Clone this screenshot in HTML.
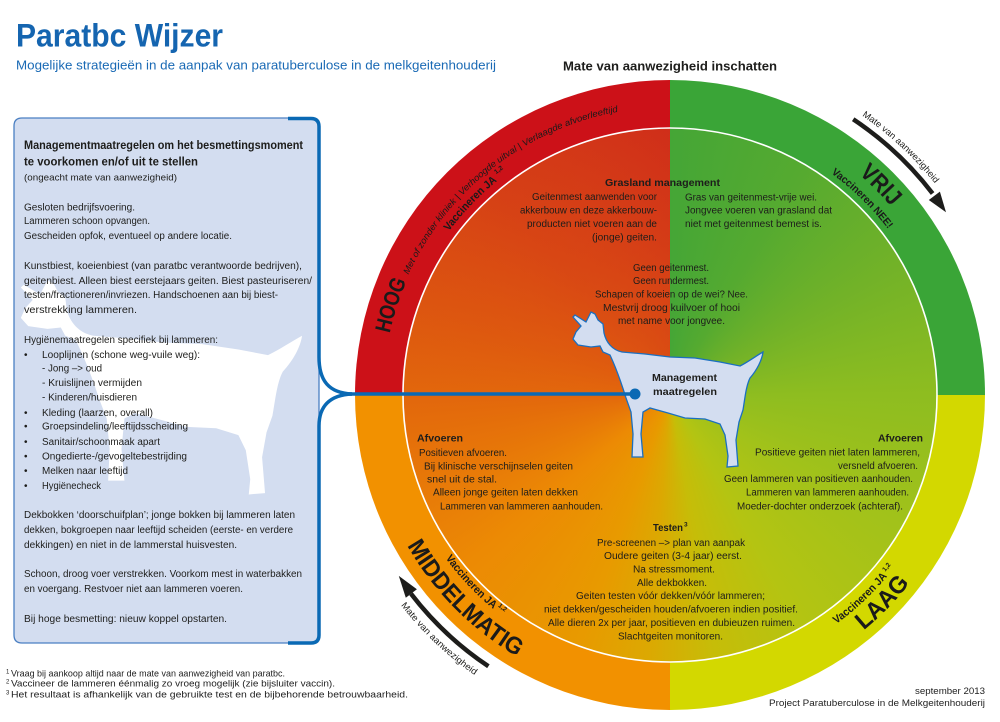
<!DOCTYPE html>
<html><head><meta charset="utf-8"><style>
html,body{margin:0;padding:0;background:#fff}
body{width:1000px;height:722px;position:relative;overflow:hidden;font-family:"Liberation Sans",sans-serif}
.ring{position:absolute;left:355px;top:80px;width:630px;height:630px;border-radius:50%;background:conic-gradient(#3aa537 0deg 90deg,#d3d800 90deg 180deg,#f29100 180deg 270deg,#cc1118 270deg 360deg)}
.inner{position:absolute;left:403px;top:128px;width:534px;height:534px;border-radius:50%;background:conic-gradient(#45a636 0deg,#55aa30 30deg,#72b228 60deg,#8ebd20 90deg,#a2c21a 120deg,#b4c412 150deg,#c6bd08 170deg,#dca802 185deg,#e89a00 200deg,#ec8a04 230deg,#e5700a 260deg,#dc5410 290deg,#d53e16 320deg,#cf2c1a 360deg)}
.innerL{position:absolute;left:403px;top:128px;width:267px;height:267px;border-radius:267px 0 0 0;background:radial-gradient(circle at 100% 100%,rgba(228,105,12,0.6) 0,rgba(228,105,12,0.25) 40%,rgba(228,105,12,0) 75%)}
svg{position:absolute;left:0;top:0}
.t{font-size:10px;fill:#1d1d1b}
.b{font-weight:bold}
</style></head><body>
<div class="ring"></div><div class="inner"></div><div class="innerL"></div>
<svg width="1000" height="722" viewBox="0 0 1000 722" font-family="Liberation Sans, sans-serif">
<defs>
<path id="aHOOG" d="M389.7,333.4 A287,287 0 0 1 434.9,230.4"/>
<path id="aMet" d="M408.4,274.7 A288,288 0 0 1 629.9,109.8"/>
<path id="aVacTL" d="M448.9,231.4 A275,275 0 0 1 532.5,156.8"/>
<path id="aSupTL" d="M496.2,174.2 A281,281 0 0 1 551.2,140.3"/>
<path id="aVRIJ" d="M858.7,174.1 A290.5,290.5 0 0 1 921.6,249.75"/>
<path id="aNEE" d="M831.1,173.3 A274,274 0 0 1 907.3,258"/>
<path id="aMateTR" d="M862.0,115.6 A339,339 0 0 1 963.6,225.5"/>
<path id="aMateBL" d="M400.9,605.2 A341.5,341.5 0 0 0 553.2,715.9"/>
<path id="aMID" d="M407.1,545.6 A303,303 0 0 0 617.4,693.4"/>
<path id="aVacBL" d="M445.5,558.1 A277.5,277.5 0 0 0 575.1,655.8"/>
<path id="aSupBL" d="M497.8,606.2 A272.5,272.5 0 0 0 576.8,651.1"/>
<path id="aLAAG" d="M863.7,630.3 A304.75,304.75 0 0 0 956.4,499.2"/>
<path id="aVacBR" d="M836.3,624.0 A283,283 0 0 0 935.9,491.8"/>
<path id="aSupBR" d="M885.2,571.8 A278.5,278.5 0 0 0 939.0,467.1"/>
</defs>

<!-- Title -->
<text x="16" y="46.5" font-size="32" font-weight="bold" fill="#1565b0" textLength="207" lengthAdjust="spacingAndGlyphs">Paratbc Wijzer</text>
<text x="16" y="69.5" font-size="12.5" fill="#1a6ab5" textLength="480" lengthAdjust="spacingAndGlyphs">Mogelijke strategieën in de aanpak van paratuberculose in de melkgeitenhouderij</text>
<text x="563" y="70.5" font-size="12.5" font-weight="bold" fill="#1d1d1b" textLength="214" lengthAdjust="spacingAndGlyphs">Mate van aanwezigheid inschatten</text>

<!-- Left panel -->
<path d="M22,118 L311,118 Q319,118 319,126 L319,635 Q319,643 311,643 L22,643 Q14,643 14,635 L14,126 Q14,118 22,118 Z" fill="#d3ddf0" stroke="#4a7fc2" stroke-width="1.3"/>
<path transform="matrix(1.48 0 0 1.38 -827.2 -150)" fill="#ffffff" d="M575,315 L586,322 L591,312 L595,314 L598,320 L603,324 L604,333 C606,342 612,350 622,352 L645,354 L670,357 L695,358 L720,362 L740,366 C748,362 756,356 763,352 C762,360 757,370 750,378 C746,386 745,398 743,410 L739,422 L736,440 L738,466 L727,467 L728,456 L725,435 L720,424 L705,419 L685,418 L668,413 L650,408 L643,412 L641,434 L643,457 L632,457 L633,434 L631,412 L626,398 C622,385 617,370 610,355 L603,352 L600,346 L591,347 L578,345 L573,339 L576,332 L581,326 L573,317 Z"/>

<g class="t">
<text class="b" x="24" y="149" font-size="11.5" textLength="279" lengthAdjust="spacingAndGlyphs">Managementmaatregelen om het besmettingsmoment</text>
<text class="b" x="24" y="165.5" font-size="11.5" textLength="174" lengthAdjust="spacingAndGlyphs">te voorkomen en/of uit te stellen</text>
<text x="24" y="180.5" font-size="9.5" textLength="153" lengthAdjust="spacingAndGlyphs">(ongeacht mate van aanwezigheid)</text>
<text x="24" y="210.5" textLength="111" lengthAdjust="spacingAndGlyphs">Gesloten bedrijfsvoering.</text>
<text x="24" y="224" textLength="126" lengthAdjust="spacingAndGlyphs">Lammeren schoon opvangen.</text>
<text x="24" y="239" textLength="208" lengthAdjust="spacingAndGlyphs">Gescheiden opfok, eventueel op andere locatie.</text>
<text x="24" y="268.8" textLength="278" lengthAdjust="spacingAndGlyphs">Kunstbiest, koeienbiest (van paratbc verantwoorde bedrijven),</text>
<text x="24" y="283.8" textLength="288" lengthAdjust="spacingAndGlyphs">geitenbiest. Alleen biest eerstejaars geiten. Biest pasteuriseren/</text>
<text x="24" y="298" textLength="254" lengthAdjust="spacingAndGlyphs">testen/fractioneren/invriezen. Handschoenen aan bij biest-</text>
<text x="24" y="312.8" textLength="113" lengthAdjust="spacingAndGlyphs">verstrekking lammeren.</text>
<text x="24" y="342.8" textLength="194" lengthAdjust="spacingAndGlyphs">Hygiënemaatregelen specifiek bij lammeren:</text>
<text x="24" y="357.8">•</text>
<text x="42" y="357.8" textLength="158" lengthAdjust="spacingAndGlyphs">Looplijnen (schone weg-vuile weg):</text>
<text x="42" y="371.5" textLength="60" lengthAdjust="spacingAndGlyphs">- Jong –&gt; oud</text>
<text x="42" y="386" textLength="100" lengthAdjust="spacingAndGlyphs">- Kruislijnen vermijden</text>
<text x="42" y="400.5" textLength="95" lengthAdjust="spacingAndGlyphs">- Kinderen/huisdieren</text>
<text x="24" y="416">•</text>
<text x="42" y="416" textLength="111" lengthAdjust="spacingAndGlyphs">Kleding (laarzen, overall)</text>
<text x="24" y="429.5">•</text>
<text x="42" y="429.5" textLength="146" lengthAdjust="spacingAndGlyphs">Groepsindeling/leeftijdsscheiding</text>
<text x="24" y="444.8">•</text>
<text x="42" y="444.8" textLength="118" lengthAdjust="spacingAndGlyphs">Sanitair/schoonmaak apart</text>
<text x="24" y="459.5">•</text>
<text x="42" y="459.5" textLength="145" lengthAdjust="spacingAndGlyphs">Ongedierte-/gevogeltebestrijding</text>
<text x="24" y="473.8">•</text>
<text x="42" y="473.8" textLength="86" lengthAdjust="spacingAndGlyphs">Melken naar leeftijd</text>
<text x="24" y="488.8">•</text>
<text x="42" y="488.8" textLength="59" lengthAdjust="spacingAndGlyphs">Hygiënecheck</text>
<text x="24" y="518" textLength="271" lengthAdjust="spacingAndGlyphs">Dekbokken ‘doorschuifplan’; jonge bokken bij lammeren laten</text>
<text x="24" y="532.8" textLength="269" lengthAdjust="spacingAndGlyphs">dekken, bokgroepen naar leeftijd scheiden (eerste- en verdere</text>
<text x="24" y="547.8" textLength="213" lengthAdjust="spacingAndGlyphs">dekkingen) en niet in de lammerstal huisvesten.</text>
<text x="24" y="577" textLength="278" lengthAdjust="spacingAndGlyphs">Schoon, droog voer verstrekken. Voorkom mest in waterbakken</text>
<text x="24" y="592" textLength="219" lengthAdjust="spacingAndGlyphs">en voergang. Restvoer niet aan lammeren voeren.</text>
<text x="24" y="622" textLength="203" lengthAdjust="spacingAndGlyphs">Bij hoge besmetting: nieuw koppel opstarten.</text>
</g>

<!-- panel thick border / bracket -->
<path d="M288,118.5 L311,118.5 Q319,118.5 319,126.5 L319,357 C319,381 329,393 352,394" fill="none" stroke="#0a69b4" stroke-width="3.5"/>
<path d="M352,394 C329,395 319,407 319,426 L319,635 Q319,643 311,643 L288,643" fill="none" stroke="#0a69b4" stroke-width="3.5"/>

<!-- inner white circle -->
<circle cx="670" cy="395" r="267" fill="none" stroke="#ffffff" stroke-width="1.6"/>

<!-- center goat -->
<path fill="#d3ddf0" stroke="#1a6fc0" stroke-width="1.3" d="M575,315 L586,322 L591,312 L595,314 L598,320 L603,324 L604,333 C606,342 612,350 622,352 L645,354 L670,357 L695,358 L720,362 L740,366 C748,362 756,356 763,352 C762,360 757,370 750,378 C746,386 745,398 743,410 L739,422 L736,440 L738,466 L727,467 L728,456 L725,435 L720,424 L705,419 L685,418 L668,413 L650,408 L643,412 L641,434 L643,457 L632,457 L633,434 L631,412 L626,398 C622,385 617,370 610,355 L603,352 L600,346 L591,347 L578,345 L573,339 L576,332 L581,326 L573,317 Z"/>

<!-- connector -->
<line x1="345" y1="394" x2="635" y2="394" stroke="#0a69b4" stroke-width="3.5"/>
<circle cx="635" cy="394" r="5.5" fill="#0a69b4"/>

<!-- ring labels -->
<g fill="#1a1a1a" font-weight="bold">
<text font-size="22"><textPath href="#aHOOG" textLength="55" lengthAdjust="spacingAndGlyphs">HOOG</textPath></text>
<text font-size="11"><textPath href="#aVacTL" textLength="70" lengthAdjust="spacingAndGlyphs">Vaccineren JA</textPath></text>
<text font-size="6.5"><textPath href="#aSupTL">1,2</textPath></text>
<text font-size="24"><textPath href="#aVRIJ" textLength="46" lengthAdjust="spacingAndGlyphs">VRIJ</textPath></text>
<text font-size="10.5"><textPath href="#aNEE" textLength="80" lengthAdjust="spacingAndGlyphs">Vaccineren NEE!</textPath></text>
<text font-size="24"><textPath href="#aMID" textLength="158" lengthAdjust="spacingAndGlyphs">MIDDELMATIG</textPath></text>
<text font-size="11"><textPath href="#aVacBL" textLength="70" lengthAdjust="spacingAndGlyphs">Vaccineren JA</textPath></text>
<text font-size="6.5"><textPath href="#aSupBL">1,2</textPath></text>
<text font-size="24"><textPath href="#aLAAG" textLength="66" lengthAdjust="spacingAndGlyphs">LAAG</textPath></text>
<text font-size="11"><textPath href="#aVacBR" textLength="70" lengthAdjust="spacingAndGlyphs">Vaccineren JA</textPath></text>
<text font-size="6.5"><textPath href="#aSupBR">1,2</textPath></text>
</g>
<text font-size="9" font-style="italic" fill="#1a1a1a"><textPath href="#aMet" textLength="276" lengthAdjust="spacingAndGlyphs">Met of zonder kliniek | Verhoogde uitval | Verlaagde afvoerleeftijd</textPath></text>

<!-- arrows -->
<path d="M853.2,119.3 A331,331 0 0 1 932.6,193.5" fill="none" stroke="#1d1d1b" stroke-width="4.5"/>
<polygon points="946.0,212.3 928.8,200.0 939.9,191.6" fill="#1d1d1b"/>
<text font-size="9" fill="#1d1d1b"><textPath href="#aMateTR" textLength="100" lengthAdjust="spacingAndGlyphs">Mate van aanwezigheid</textPath></text>
<path d="M488.4,666.3 A326.5,326.5 0 0 1 411.0,593.8" fill="none" stroke="#1d1d1b" stroke-width="4.5"/>
<polygon points="398.8,575.9 416.9,589.2 405.8,597.7" fill="#1d1d1b"/>
<text font-size="9" fill="#1d1d1b"><textPath href="#aMateBL" textLength="102" lengthAdjust="spacingAndGlyphs">Mate van aanwezigheid</textPath></text>

<!-- circle content -->
<g class="t">
<text class="b" x="605" y="186" font-size="10.5" textLength="115" lengthAdjust="spacingAndGlyphs">Grasland management</text>
<text x="532" y="200" textLength="125" lengthAdjust="spacingAndGlyphs">Geitenmest aanwenden voor</text>
<text x="520" y="213.5" textLength="137" lengthAdjust="spacingAndGlyphs">akkerbouw en deze akkerbouw-</text>
<text x="527" y="227" textLength="130" lengthAdjust="spacingAndGlyphs">producten niet voeren aan de</text>
<text x="592" y="240.5" textLength="65" lengthAdjust="spacingAndGlyphs">(jonge) geiten.</text>
<text x="685" y="200.5" textLength="132" lengthAdjust="spacingAndGlyphs">Gras van geitenmest-vrije wei.</text>
<text x="685" y="213.5" textLength="147" lengthAdjust="spacingAndGlyphs">Jongvee voeren van grasland dat</text>
<text x="685" y="227" textLength="137" lengthAdjust="spacingAndGlyphs">niet met geitenmest bemest is.</text>

<text x="633" y="270.8" textLength="76" lengthAdjust="spacingAndGlyphs">Geen geitenmest.</text>
<text x="633" y="284.2" textLength="76" lengthAdjust="spacingAndGlyphs">Geen rundermest.</text>
<text x="595" y="297.5" textLength="153" lengthAdjust="spacingAndGlyphs">Schapen of koeien op de wei? Nee.</text>
<text x="603" y="310.8" textLength="137" lengthAdjust="spacingAndGlyphs">Mestvrij droog kuilvoer of hooi</text>
<text x="618" y="324.2" textLength="107" lengthAdjust="spacingAndGlyphs">met name voor jongvee.</text>

<text class="b" x="652" y="381" font-size="10.5" textLength="65" lengthAdjust="spacingAndGlyphs">Management</text>
<text class="b" x="653" y="395" font-size="10.5" textLength="64" lengthAdjust="spacingAndGlyphs">maatregelen</text>

<text class="b" x="417" y="441.5" font-size="10.5" textLength="46" lengthAdjust="spacingAndGlyphs">Afvoeren</text>
<text x="419" y="456" textLength="88" lengthAdjust="spacingAndGlyphs">Positieven afvoeren.</text>
<text x="424" y="469.5" textLength="149" lengthAdjust="spacingAndGlyphs">Bij klinische verschijnselen geiten</text>
<text x="427" y="482.5" textLength="70" lengthAdjust="spacingAndGlyphs">snel uit de stal.</text>
<text x="433" y="495.5" textLength="145" lengthAdjust="spacingAndGlyphs">Alleen jonge geiten laten dekken</text>
<text x="440" y="509.5" textLength="163" lengthAdjust="spacingAndGlyphs">Lammeren van lammeren aanhouden.</text>

<text class="b" x="878" y="441.5" font-size="10.5" textLength="45" lengthAdjust="spacingAndGlyphs">Afvoeren</text>
<text x="755" y="455.5" textLength="165" lengthAdjust="spacingAndGlyphs">Positieve geiten niet laten lammeren,</text>
<text x="838" y="469" textLength="80" lengthAdjust="spacingAndGlyphs">versneld afvoeren.</text>
<text x="724" y="482" textLength="189" lengthAdjust="spacingAndGlyphs">Geen lammeren van positieven aanhouden.</text>
<text x="746" y="495.5" textLength="163" lengthAdjust="spacingAndGlyphs">Lammeren van lammeren aanhouden.</text>
<text x="737" y="509.5" textLength="166" lengthAdjust="spacingAndGlyphs">Moeder-dochter onderzoek (achteraf).</text>

<text class="b" x="653" y="531" font-size="10.5" textLength="30" lengthAdjust="spacingAndGlyphs">Testen</text>
<text class="b" x="684" y="526.5" font-size="6.5">3</text>
<text x="597" y="546" textLength="148" lengthAdjust="spacingAndGlyphs">Pre-screenen –&gt; plan van aanpak</text>
<text x="604" y="559" textLength="138" lengthAdjust="spacingAndGlyphs">Oudere geiten (3-4 jaar) eerst.</text>
<text x="633" y="572.5" textLength="82" lengthAdjust="spacingAndGlyphs">Na stressmoment.</text>
<text x="637" y="586" textLength="70" lengthAdjust="spacingAndGlyphs">Alle dekbokken.</text>
<text x="576" y="599" textLength="189" lengthAdjust="spacingAndGlyphs">Geiten testen vóór dekken/vóór lammeren;</text>
<text x="544" y="612.5" textLength="254" lengthAdjust="spacingAndGlyphs">niet dekken/gescheiden houden/afvoeren indien positief.</text>
<text x="548" y="626" textLength="247" lengthAdjust="spacingAndGlyphs">Alle dieren 2x per jaar, positieven en dubieuzen ruimen.</text>
<text x="618" y="639.5" textLength="105" lengthAdjust="spacingAndGlyphs">Slachtgeiten monitoren.</text>
</g>

<!-- footnotes -->
<g fill="#222" font-size="9">
<text x="6" y="673.5" font-size="6">1</text>
<text x="11" y="676.5" textLength="274" lengthAdjust="spacingAndGlyphs">Vraag bij aankoop altijd naar de mate van aanwezigheid van paratbc.</text>
<text x="6" y="683.5" font-size="6">2</text>
<text x="11" y="686.5" textLength="324" lengthAdjust="spacingAndGlyphs">Vaccineer de lammeren éénmalig zo vroeg mogelijk (zie bijsluiter vaccin).</text>
<text x="6" y="694.5" font-size="6">3</text>
<text x="11" y="697.5" textLength="397" lengthAdjust="spacingAndGlyphs">Het resultaat is afhankelijk van de gebruikte test en de bijbehorende betrouwbaarheid.</text>
<text x="915" y="694" textLength="70" lengthAdjust="spacingAndGlyphs">september 2013</text>
<text x="769" y="706" textLength="216" lengthAdjust="spacingAndGlyphs">Project Paratuberculose in de Melkgeitenhouderij</text>
</g>
</svg>
</body></html>
